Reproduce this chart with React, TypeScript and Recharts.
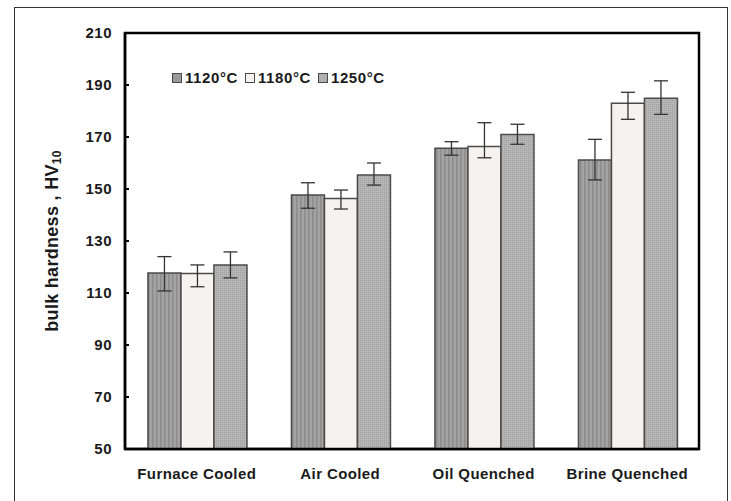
import { BarChart, Bar, XAxis, YAxis, ErrorBar, ReferenceArea } from "recharts";

const categories = ["Furnace Cooled", "Air Cooled", "Oil Quenched", "Brine Quenched"];
const h1120 = [117.7, 147.7, 165.7, 161.2];
const h1180 = [117.5, 146.3, 166.3, 183.0];
const h1250 = [120.8, 155.4, 171.0, 184.9];
// [below, above] error deltas
const e1120 = [[6.9, 6.3], [5.1, 4.7], [2.7, 2.5], [7.7, 7.9]];
const e1180 = [[5.1, 3.3], [4.0, 3.3], [4.3, 9.2], [6.2, 4.2]];
const e1250 = [[5.0, 5.0], [3.9, 4.6], [3.8, 3.9], [6.2, 6.7]];
const yTicks = [50, 70, 90, 110, 130, 150, 170, 190, 210];

const data = categories.map((name, i) => ({
  name,
  t1120: h1120[i],
  t1180: h1180[i],
  t1250: h1250[i],
  e1120: e1120[i],
  e1180: e1180[i],
  e1250: e1250[i],
}));

const FONT = "'Liberation Sans', Arial, sans-serif";
const TEXT = "#1a1a1a";
const EDGE = "#4a4a4a";

const series = [
  { key: "t1120", err: "e1120", name: "1120°C", fill: "url(#stripes)", swatch: "#9a9a9a" },
  { key: "t1180", err: "e1180", name: "1180°C", fill: "#f6f2f2", swatch: "#f6f2f2" },
  { key: "t1250", err: "e1250", name: "1250°C", fill: "url(#dots)", swatch: "#b0b0b0" },
];

function YTick(props: any) {
  const { x, y, payload } = props;
  return (
    <g>
      <line x1={x + 13} x2={x + 17} y1={y} y2={y} stroke="#000" strokeWidth={2} />
      <text x={x} y={y} dy={5} textAnchor="end" fontSize={15} fontWeight="bold" fill={TEXT} fontFamily={FONT} letterSpacing={0.5}>
        {payload.value}
      </text>
    </g>
  );
}

function LegendBox() {
  return (
    <div
      style={{
        position: "absolute",
        left: 172,
        top: 69,
        display: "flex",
        gap: 7,
        fontFamily: FONT,
        fontWeight: "bold",
        fontSize: 15,
        color: TEXT,
      }}
    >
      {series.map((s) => (
        <div key={s.key} style={{ display: "flex", alignItems: "center" }}>
          <span
            style={{
              display: "inline-block",
              width: 8,
              height: 8,
              background: s.swatch,
              border: `1px solid ${EDGE}`,
              marginRight: 3,
            }}
          />
          <span style={{ letterSpacing: 0.6 }}>{s.name}</span>
        </div>
      ))}
    </div>
  );
}

export default function App() {
  return (
    <div style={{ position: "absolute", left: 0, top: 0, width: 731, height: 501, overflow: "hidden", background: "#fff", fontFamily: FONT }}>
      <BarChart
        width={731}
        height={501}
        data={data}
        margin={{ top: 33, right: 32, bottom: 22, left: 0 }}
        barCategoryGap="16%"
        barGap={0}
      >
        <defs>
          <pattern id="stripes" width="4" height="4" patternUnits="userSpaceOnUse">
            <rect width="4" height="4" fill="#a3a3a3" />
            <rect width="1.5" height="4" fill="#8c8c8c" />
          </pattern>
          <pattern id="dots" width="2" height="2" patternUnits="userSpaceOnUse">
            <rect width="2" height="2" fill="#b6b6b6" />
            <rect width="1" height="1" fill="#9e9e9e" />
          </pattern>
        </defs>
        <XAxis
          dataKey="name"
          height={30}
          tickLine={false}
          tickSize={0}
          tickMargin={19}
          axisLine={{ stroke: "#000", strokeWidth: 2.5 }}
          tick={{ fontSize: 15, fontWeight: "bold", fill: TEXT, fontFamily: FONT, letterSpacing: 0.4 }}
        />
        <YAxis
          width={125}
          domain={[50, 210]}
          ticks={yTicks}
          interval={0}
          allowDataOverflow
          tickLine={false}
          tickSize={6}
          tickMargin={7}
          axisLine={{ stroke: "#000", strokeWidth: 2.5 }}
          tick={<YTick />}
          label={{
            content: () => (
              <text
                x={53}
                y={241}
                transform="rotate(-90 53 241)"
                textAnchor="middle"
                dominantBaseline="middle"
                fontSize={18}
                fontWeight="bold"
                fill={TEXT}
                fontFamily={FONT}
                letterSpacing={0.3}
              >
                bulk hardness , HV
                <tspan fontSize={12} dy={5}>10</tspan>
              </text>
            ),
          }}
        />
        <ReferenceArea
          x1={categories[0]}
          x2={categories[categories.length - 1]}
          y1={50}
          y2={210}
          ifOverflow="visible"
          fill="#fff"
          fillOpacity={0}
          stroke="#000"
          strokeWidth={2.5}
        />
        {series.map((s) => (
          <Bar key={s.key} dataKey={s.key} name={s.name} fill={s.fill} stroke={EDGE} strokeWidth={1.5} isAnimationActive={false}>
            <ErrorBar dataKey={s.err} width={7} stroke="#333" strokeWidth={1.3} />
          </Bar>
        ))}
      </BarChart>
      <LegendBox />
      <div
        style={{
          position: "absolute",
          left: 14,
          top: 7,
          width: 714,
          height: 520,
          border: "1.5px solid #333",
          boxSizing: "border-box",
          pointerEvents: "none",
        }}
      />
    </div>
  );
}
